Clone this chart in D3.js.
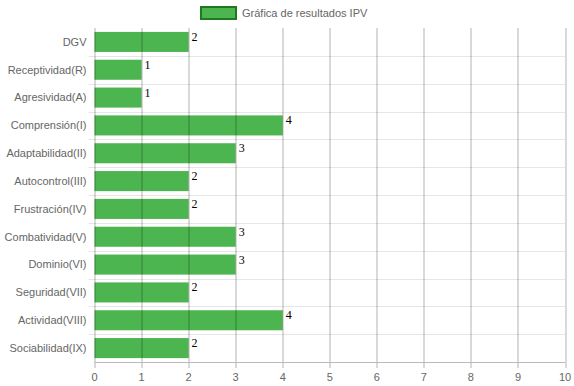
<!DOCTYPE html>
<html>
<head>
<meta charset="utf-8">
<script src="https://cdn.jsdelivr.net/npm/d3@7"></script>
<style>
  body { margin: 0; background: #fff; }
  svg { display: block; font-family: "Liberation Sans", Arial, sans-serif; }
</style>
</head>
<body>
<div id="chart"></div>
<script>
// data
var categories = ["DGV", "Receptividad(R)", "Agresividad(A)", "Comprensión(I)", "Adaptabilidad(II)",
  "Autocontrol(III)", "Frustración(IV)", "Combatividad(V)", "Dominio(VI)", "Seguridad(VII)",
  "Actividad(VIII)", "Sociabilidad(IX)"];
var values = [2, 1, 1, 4, 3, 2, 2, 3, 3, 2, 4, 2];
var xTicks = [0, 1, 2, 3, 4, 5, 6, 7, 8, 9, 10];
var seriesName = "Gráfica de resultados IPV";

var svgWidth = 574, svgHeight = 386;
var margin = { top: 28, right: 9, bottom: 24, left: 94.5 };
var width = svgWidth - margin.left - margin.right;
var height = svgHeight - margin.top - margin.bottom;

var svg = d3.select("#chart").append("svg")
  .attr("width", svgWidth)
  .attr("height", svgHeight);

var chartGroup = svg.append("g")
  .attr("transform", `translate(${margin.left}, ${margin.top})`);

var xScale = d3.scaleLinear().domain([0, 10]).range([0, width]);
var yScale = d3.scaleBand().domain(categories).range([0, height]).paddingInner(0.28).paddingOuter(0.14);
var rowScale = d3.scaleBand().domain(categories).range([0, height]);

// horizontal grid lines (between rows)
chartGroup.selectAll(".hgrid")
  .data(categories.slice(1))
  .enter()
  .append("line")
  .attr("x1", -6)
  .attr("x2", width)
  .attr("y1", d => Math.round(rowScale(d)) + 0.5)
  .attr("y2", d => Math.round(rowScale(d)) + 0.5)
  .attr("stroke", "#e6e6e6");

// bars
chartGroup.selectAll(".bar")
  .data(values)
  .enter()
  .append("rect")
  .attr("x", xScale(0))
  .attr("y", (d, i) => yScale(categories[i]))
  .attr("width", d => xScale(d) - xScale(0))
  .attr("height", yScale.bandwidth())
  .attr("fill", "#4cb54f");

// vertical grid lines
chartGroup.selectAll(".vgrid")
  .data(xTicks)
  .enter()
  .append("line")
  .attr("x1", d => Math.round(xScale(d)) + 0.5)
  .attr("x2", d => Math.round(xScale(d)) + 0.5)
  .attr("y1", 0)
  .attr("y2", height + 6)
  .attr("stroke", "rgba(0,0,0,0.3)");

// bottom axis line
chartGroup.append("line")
  .attr("x1", 0).attr("x2", width)
  .attr("y1", height + 0.5).attr("y2", height + 0.5)
  .attr("stroke", "#bbb");

// x tick labels
chartGroup.selectAll(".xlab")
  .data(xTicks)
  .enter()
  .append("text")
  .attr("x", d => xScale(d))
  .attr("y", height + 19)
  .attr("text-anchor", "middle")
  .attr("font-size", "11px")
  .attr("fill", "#666")
  .text(d => d);

// category labels
chartGroup.selectAll(".ylab")
  .data(categories)
  .enter()
  .append("text")
  .attr("x", -8)
  .attr("y", d => rowScale(d) + rowScale.bandwidth() / 2)
  .attr("dy", "0.35em")
  .attr("text-anchor", "end")
  .attr("font-size", "11px")
  .attr("fill", "#666")
  .text(d => d);

// value labels
chartGroup.selectAll(".vlab")
  .data(values)
  .enter()
  .append("text")
  .attr("x", d => xScale(d) + 3)
  .attr("y", (d, i) => yScale(categories[i]) + 9)
  .attr("font-family", "'Liberation Serif', 'Times New Roman', serif")
  .attr("font-size", "12px")
  .attr("fill", "#000")
  .text(d => d);

// legend
var legend = svg.append("g");
legend.append("rect")
  .attr("x", 201).attr("y", 7)
  .attr("width", 35).attr("height", 12)
  .attr("fill", "#4cb54f")
  .attr("stroke", "#1f7a1f")
  .attr("stroke-width", 2);
legend.append("text")
  .attr("x", 242).attr("y", 17)
  .attr("font-size", "11px")
  .attr("fill", "#666")
  .text(seriesName);
</script>
</body>
</html>
